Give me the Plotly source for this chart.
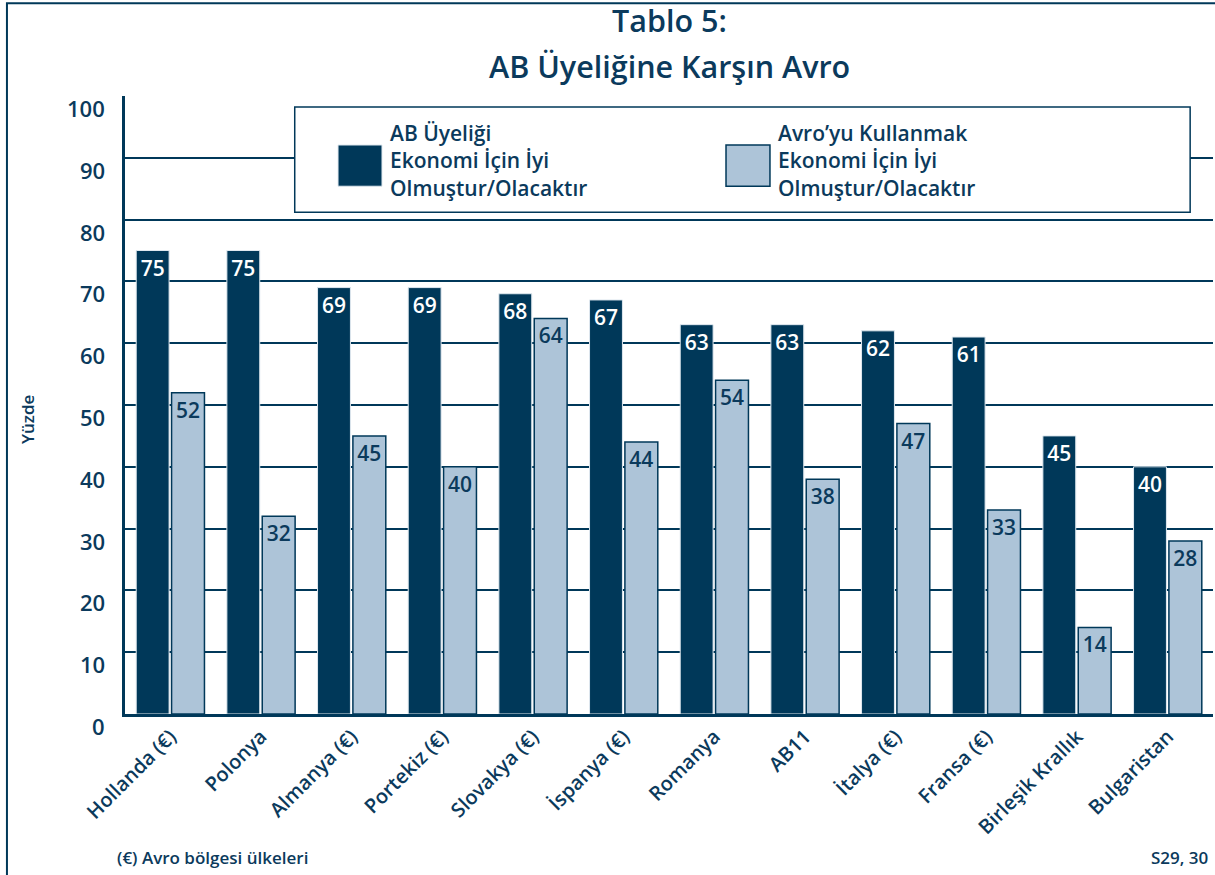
import plotly.graph_objects as go

NAVY = "#003859"
LIGHT = "#adc4d8"
TXT = "#0b3a5c"
FONT = "Open Sans"
W = 600

countries = ["Hollanda (€)", "Polonya", "Almanya (€)", "Portekiz (€)", "Slovakya (€)",
             "İspanya (€)", "Romanya", "AB11", "İtalya (€)", "Fransa (€)",
             "Birleşik Krallık", "Bulgaristan"]
ab_uyelik = [75, 75, 69, 69, 68, 67, 63, 63, 62, 61, 45, 40]
avro = [52, 32, 45, 40, 64, 44, 54, 38, 47, 33, 14, 28]
y_ticks = [0, 10, 20, 30, 40, 50, 60, 70, 80, 90, 100]

fig = go.Figure()
fig.add_trace(go.Bar(x=countries, y=ab_uyelik, name="AB Üyeliği",
                     marker=dict(color=NAVY, line=dict(color="#dfe8ef", width=1)),
                     text=ab_uyelik, textposition="inside", insidetextanchor="end",
                     textangle=0, constraintext="none",
                     textfont=dict(color="white", size=21, family=FONT, weight=W)))
fig.add_trace(go.Bar(x=countries, y=avro, name="Avro'yu Kullanmak",
                     marker=dict(color=LIGHT, line=dict(color=NAVY, width=1.5)),
                     text=avro, textposition="inside", insidetextanchor="end",
                     textangle=0, constraintext="none",
                     textfont=dict(color=TXT, size=21, family=FONT, weight=W)))

fig.update_layout(
    width=1215, height=875,
    margin=dict(l=125, r=2, t=96, b=161),
    paper_bgcolor="white", plot_bgcolor="white",
    barmode="group", bargap=0.22, bargroupgap=0.07,
    showlegend=False,
    font=dict(family=FONT, color=TXT),
    xaxis=dict(tickangle=-45, tickfont=dict(size=20, family=FONT, weight=W, color=TXT),
               showline=True, linecolor=NAVY, linewidth=3, ticks="", showgrid=False),
    yaxis=dict(range=[0, 100], tickvals=y_ticks, showticklabels=False,
               showgrid=True, gridcolor=NAVY, gridwidth=2, zeroline=False,
               showline=True, linecolor=NAVY, linewidth=3, ticks=""),
)

# y tick labels sit a little below their gridlines
for v in y_ticks:
    fig.add_annotation(x=0, xref="paper", y=v, yref="y", text=str(v), showarrow=False,
                       xanchor="right", yanchor="middle", xshift=-18, yshift=-12,
                       font=dict(size=22, family=FONT, weight=W, color=TXT))

# title
fig.add_annotation(x=0.5, xref="paper", y=1.123, yref="paper", text="Tablo 5:",
                   xanchor="center", yanchor="middle", showarrow=False,
                   font=dict(size=30.5, family=FONT, color=TXT, weight=W))
fig.add_annotation(x=0.5, xref="paper", y=1.049, yref="paper", text="AB Üyeliğine Karşın Avro",
                   xanchor="center", yanchor="middle", showarrow=False,
                   font=dict(size=30.5, family=FONT, color=TXT, weight=W))

# y axis title
fig.add_annotation(x=-0.089, xref="paper", y=0.476, yref="paper", text="Yüzde", textangle=-90,
                   xanchor="center", yanchor="middle", showarrow=False,
                   font=dict(size=17, family=FONT, color=TXT, weight=W))

# footnotes
fig.add_annotation(x=-0.009, xref="paper", y=-0.233, yref="paper", text="(€) Avro bölgesi ülkeleri",
                   xanchor="left", yanchor="middle", showarrow=False,
                   font=dict(size=17, family=FONT, color=TXT, weight=W))
fig.add_annotation(x=0.997, xref="paper", y=-0.233, yref="paper", text="S29, 30",
                   xanchor="right", yanchor="middle", showarrow=False,
                   font=dict(size=17, family=FONT, color=TXT, weight=W))

# legend box
fig.add_shape(type="rect", xref="paper", yref="paper", x0=0.156, x1=0.979, y0=0.812, y1=0.982,
              fillcolor="white", line=dict(color=NAVY, width=1.5), layer="above")
fig.add_shape(type="rect", xref="paper", yref="paper", x0=0.1958, x1=0.2362, y0=0.8540, y1=0.9207,
              fillcolor=NAVY, line=dict(color="#dfe8ef", width=1), layer="above")
fig.add_shape(type="rect", xref="paper", yref="paper", x0=0.5524, x1=0.5928, y0=0.8540, y1=0.9207,
              fillcolor=LIGHT, line=dict(color=NAVY, width=1.5), layer="above")
fig.add_annotation(x=0.2417, xref="paper", y=0.896, yref="paper",
                   text="AB Üyeliği<br>Ekonomi İçin İyi<br>Olmuştur/Olacaktır",
                   xanchor="left", yanchor="middle", align="left", showarrow=False,
                   font=dict(size=21, family=FONT, color=TXT, weight=W))
fig.add_annotation(x=0.5983, xref="paper", y=0.896, yref="paper",
                   text="Avro’yu Kullanmak<br>Ekonomi İçin İyi<br>Olmuştur/Olacaktır",
                   xanchor="left", yanchor="middle", align="left", showarrow=False,
                   font=dict(size=21, family=FONT, color=TXT, weight=W))

# outer frame
fig.add_shape(type="rect", xref="paper", yref="paper", x0=-0.1085, x1=1.003, y0=-0.27, y1=1.150,
              fillcolor="rgba(0,0,0,0)", line=dict(color=NAVY, width=2), layer="above")

# drop the default 8px page margin so the figure starts at the window corner
fig.write_html("out.html", config={"displayModeBar": False},
               post_script="document.body.style.margin='0px';")
